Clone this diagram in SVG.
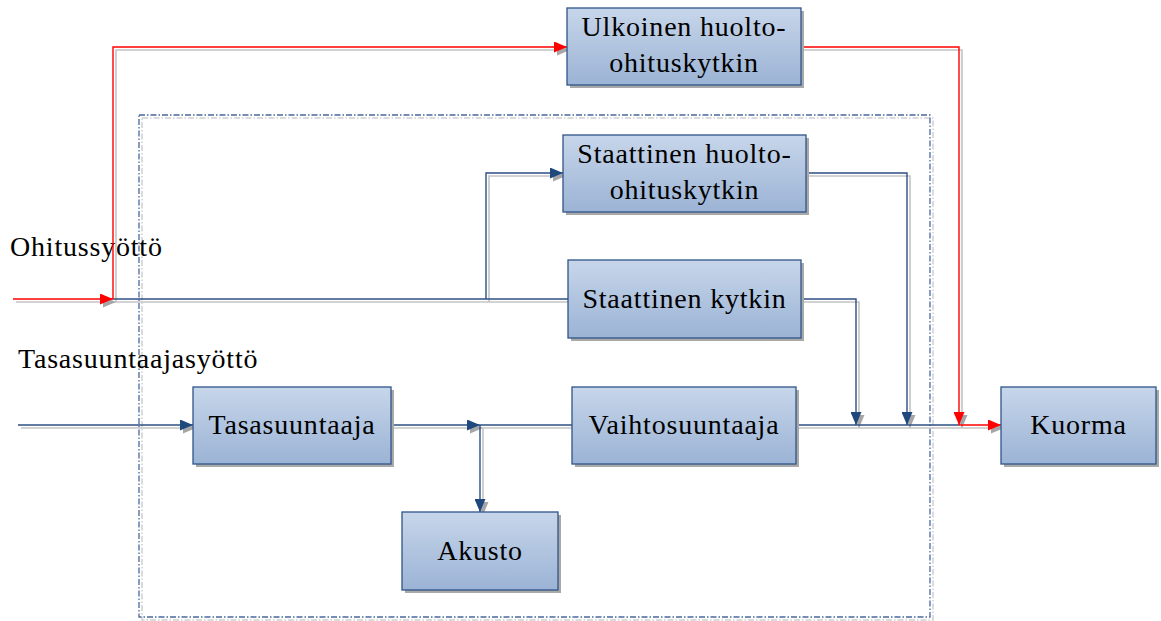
<svg xmlns="http://www.w3.org/2000/svg" width="1161" height="621" viewBox="0 0 1161 621">
<defs>
<linearGradient id="bg" x1="0" y1="0" x2="0" y2="1">
<stop offset="0" stop-color="#c7d6ea"/>
<stop offset="1" stop-color="#9bb3d5"/>
</linearGradient>
<marker id="ab" viewBox="0 0 13 11" refX="13" refY="5.5" markerWidth="13" markerHeight="11" markerUnits="userSpaceOnUse" orient="auto"><path d="M0,0 L13,5.5 L0,11 z" fill="#1f497d"/></marker>
<marker id="ar" viewBox="0 0 13 11" refX="13" refY="5.5" markerWidth="13" markerHeight="11" markerUnits="userSpaceOnUse" orient="auto"><path d="M0,0 L13,5.5 L0,11 z" fill="#ff0000"/></marker>
<marker id="ag" viewBox="0 0 13 11" refX="13" refY="5.5" markerWidth="13" markerHeight="11" markerUnits="userSpaceOnUse" orient="auto"><path d="M0,0 L13,5.5 L0,11 z" fill="#a6a6a6"/></marker>
</defs>
<style>
.box{fill:url(#bg);stroke:#2f5589;stroke-width:1.3}
.sh{fill:#a9a9a9}
.t{font-family:"Liberation Serif","Times New Roman",serif;font-size:28px;letter-spacing:0.8px;fill:#000;text-anchor:middle}
.lbl{font-family:"Liberation Serif","Times New Roman",serif;font-size:28px;letter-spacing:0.8px;fill:#000}
.b{fill:none;stroke:#2c4f85;stroke-width:1.4}
.r{fill:none;stroke:#ff0000;stroke-width:1.4}
.g{fill:none;stroke:#c4c4c4;stroke-width:1.6}
.dash{fill:none;stroke-dasharray:6 2 1.5 2}
</style>

<g id="boundary">
<rect x="142" y="118" width="791" height="502" class="dash" stroke="#cfcfcf" stroke-width="1.5"/>
<rect x="139" y="115" width="791" height="502" class="dash" stroke="#4a6a9a" stroke-width="1.3"/>
</g>

<g id="labels">
<text class="lbl" x="10" y="256">Ohitussyöttö</text>
<text class="lbl" x="18" y="368">Tasasuuntaajasyöttö</text>
</g>

<g id="connectors">
<g id="shadows" transform="translate(3,3)">
<path class="g" d="M13,299 H113" marker-end="url(#ag)"/>
<path class="g" d="M113,299 V47 H567" marker-end="url(#ag)"/>
<path class="g" d="M801,47 H959 V425" marker-end="url(#ag)"/>
<path class="g" d="M959,425 H1001" marker-end="url(#ag)"/>
<path class="g" d="M113,299 H568"/>
<path class="g" d="M486,299 V173 H563" marker-end="url(#ag)"/>
<path class="g" d="M801,299 H856 V425" marker-end="url(#ag)"/>
<path class="g" d="M806,173 H907 V425" marker-end="url(#ag)"/>
<path class="g" d="M18,425 H193" marker-end="url(#ag)"/>
<path class="g" d="M391,425 H480" marker-end="url(#ag)"/>
<path class="g" d="M480,425 H572"/>
<path class="g" d="M480,425 V512" marker-end="url(#ag)"/>
<path class="g" d="M796,425 H959"/>
</g>
<g id="lines">
<path class="b" d="M113,299 H568"/>
<path class="b" d="M486,299 V173 H563" marker-end="url(#ab)"/>
<path class="b" d="M801,299 H856 V425" marker-end="url(#ab)"/>
<path class="b" d="M806,173 H907 V425" marker-end="url(#ab)"/>
<path class="b" d="M18,425 H193" marker-end="url(#ab)"/>
<path class="b" d="M391,425 H480" marker-end="url(#ab)"/>
<path class="b" d="M480,425 H572"/>
<path class="b" d="M480,425 V512" marker-end="url(#ab)"/>
<path class="b" d="M796,425 H959"/>
<path class="r" d="M13,299 H113" marker-end="url(#ar)"/>
<path class="r" d="M113,299 V47 H567" marker-end="url(#ar)"/>
<path class="r" d="M801,47 H959 V425" marker-end="url(#ar)"/>
<path class="r" d="M959,425 H1001" marker-end="url(#ar)"/>
</g>
</g>

<g id="ulkoinen">
<rect class="sh" x="570" y="11" width="234" height="77"/>
<rect class="box" x="567" y="8" width="234" height="77"/>
<text class="t" x="684" y="36">Ulkoinen huolto-</text>
<text class="t" x="684" y="72">ohituskytkin</text>
</g>
<g id="staattinen-huolto">
<rect class="sh" x="566" y="138" width="243" height="77"/>
<rect class="box" x="563" y="135" width="243" height="77"/>
<text class="t" x="684.5" y="163">Staattinen huolto-</text>
<text class="t" x="684.5" y="199">ohituskytkin</text>
</g>
<g id="staattinen-kytkin">
<rect class="sh" x="571" y="263" width="233" height="78"/>
<rect class="box" x="568" y="260" width="233" height="78"/>
<text class="t" x="684.5" y="308">Staattinen kytkin</text>
</g>
<g id="tasasuuntaaja">
<rect class="sh" x="196" y="390" width="198" height="77"/>
<rect class="box" x="193" y="387" width="198" height="77"/>
<text class="t" x="292" y="434">Tasasuuntaaja</text>
</g>
<g id="vaihtosuuntaaja">
<rect class="sh" x="575" y="390" width="224" height="77"/>
<rect class="box" x="572" y="387" width="224" height="77"/>
<text class="t" x="684" y="434">Vaihtosuuntaaja</text>
</g>
<g id="akusto">
<rect class="sh" x="405" y="515" width="156" height="78"/>
<rect class="box" x="402" y="512" width="156" height="78"/>
<text class="t" x="480" y="560">Akusto</text>
</g>
<g id="kuorma">
<rect class="sh" x="1004" y="390" width="155" height="77"/>
<rect class="box" x="1001" y="387" width="155" height="77"/>
<text class="t" x="1078.5" y="434">Kuorma</text>
</g>
</svg>
